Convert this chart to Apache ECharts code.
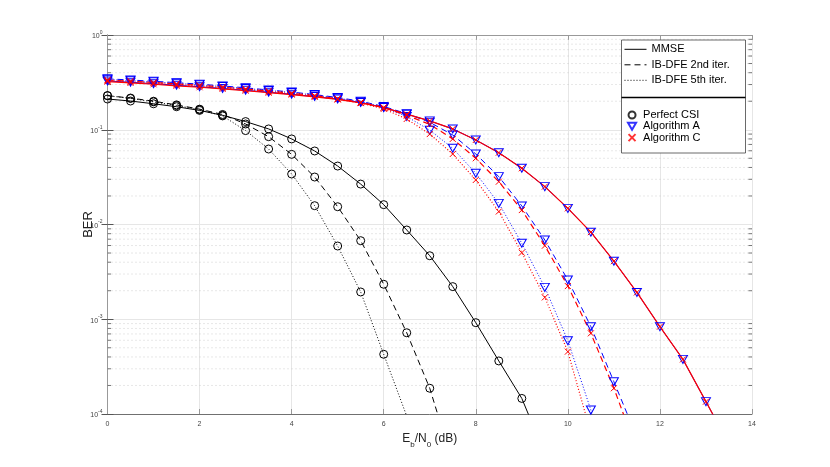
<!DOCTYPE html>
<html lang="en">
<head>
    <meta charset="UTF-8">
    <title>BER</title>
    <style>
        html, body {margin: 0; padding: 0; background: #fff;}
        #main {width: 830px; height: 467px;}
    </style>
</head>
<body>
<script src="https://cdn.jsdelivr.net/npm/echarts@6/dist/echarts.min.js"></script>

<div id="main"></div>
<script type="text/javascript">

// Eb/N0 points (dB), 0.5 dB step
var ebn0 = [0, 0.5, 1, 1.5, 2, 2.5, 3, 3.5, 4, 4.5, 5, 5.5, 6, 6.5, 7, 7.5, 8, 8.5, 9, 9.5,
            10, 10.5, 11, 11.5, 12, 12.5, 13, 13.5];

// Perfect CSI
var perfMmse  = [0.211, 0.201, 0.188, 0.175, 0.160, 0.142, 0.122, 0.102, 0.080, 0.0597, 0.0414, 0.0267,
                 0.0162, 0.00875, 0.00468, 0.00221, 0.00092, 0.000363, 0.000146, 3.8e-5];
var perfIter2 = [0.229, 0.216, 0.200, 0.183, 0.165, 0.145, 0.115, 0.0845, 0.055, 0.0317, 0.0154, 0.00675,
                 0.00234, 0.00072, 0.000187, 3e-5];
var perfIter5 = [0.229, 0.214, 0.197, 0.180, 0.163, 0.140, 0.098, 0.0626, 0.0341, 0.0158, 0.00593, 0.00194,
                 0.000427, 9.5e-5];

// Algorithm A
var algAMmse  = [0.327, 0.317, 0.306, 0.295, 0.284, 0.273, 0.261, 0.249, 0.237, 0.224, 0.211, 0.194,
                 0.172, 0.146, 0.124, 0.102, 0.078, 0.0573, 0.0392, 0.0251, 0.0148, 0.0083, 0.0041, 0.00192,
                 0.000835, 0.000377, 0.000135, 4.8e-5];
var algAIter2 = [0.345, 0.335, 0.325, 0.314, 0.303, 0.290, 0.277, 0.263, 0.250, 0.235, 0.219, 0.200,
                 0.176, 0.148, 0.120, 0.088, 0.0555, 0.032, 0.0157, 0.00686, 0.0026, 0.000835, 0.000219, 5.7e-5];
var algAIter5 = [0.340, 0.330, 0.320, 0.309, 0.298, 0.286, 0.273, 0.260, 0.247, 0.232, 0.216, 0.197,
                 0.172, 0.138, 0.099, 0.0637, 0.0347, 0.0167, 0.00633, 0.00217, 0.000594, 0.00011, 1.5e-5];

// Algorithm C
var algCMmse  = [0.322, 0.312, 0.302, 0.291, 0.281, 0.270, 0.258, 0.246, 0.235, 0.222, 0.209, 0.192,
                 0.171, 0.146, 0.124, 0.102, 0.078, 0.0573, 0.0392, 0.0251, 0.0148, 0.0083, 0.0041, 0.00192,
                 0.000835, 0.000377, 0.000135, 4.8e-5];
var algCIter2 = [0.335, 0.326, 0.316, 0.305, 0.294, 0.282, 0.269, 0.256, 0.243, 0.229, 0.213, 0.195,
                 0.172, 0.142, 0.114, 0.080, 0.050, 0.0283, 0.0142, 0.00597, 0.00224, 0.00071, 0.000187, 4.1e-5];
var algCIter5 = [0.330, 0.321, 0.311, 0.300, 0.290, 0.278, 0.266, 0.253, 0.240, 0.226, 0.210, 0.191,
                 0.166, 0.130, 0.090, 0.0555, 0.0295, 0.0137, 0.00504, 0.0017, 0.000455, 6.3e-5];

// minor y grid positions (2..9 of every decade)
var minorY = [];
for (var d = -4; d < 0; d++) {
    for (var k = 2; k <= 9; k++) {
        minorY.push([0, k * Math.pow(10, d)]);
    }
}

var FONT = 'Liberation Sans';
var BLUE = '#0000ff', RED = '#ff0000', BLACK = '#000000';
var DASH = [6, 4], DOT = [1, 2];
var CROSS = 'path://M0,0L10,10M10,0L0,10';
var TRI_DOWN = 'path://M0,0L10,0L5,8.66Z';

function pairs(ys) {
    var out = [];
    for (var i = 0; i < ys.length; i++) out.push([ebn0[i], ys[i]]);
    return out;
}

function curve(name, ys, color, type, mark) {
    var s = {
        name: name,
        type: 'line',
        data: pairs(ys),
        z: 3,
        silent: true,
        lineStyle: {color: color, width: 1, type: type},
        itemStyle: {color: 'transparent', borderColor: color, borderWidth: 1},
        showAllSymbol: true
    };
    if (mark === 'o') { s.symbol = 'circle'; s.symbolSize = 8; }
    if (mark === 'v') { s.symbol = TRI_DOWN; s.symbolSize = [9, 8]; }
    if (mark === 'x') { s.symbol = CROSS; s.symbolSize = 6; s.lineStyle.width = 1.2; }
    return s;
}

function legendLine(name, type) {
    return {name: name, type: 'line', data: [], symbol: 'none',
            lineStyle: {color: BLACK, width: 1, type: type},
            itemStyle: {color: 'transparent', borderColor: 'transparent', borderWidth: 0}};
}

function legendMark(name, symbol, color, size) {
    return {name: name, type: 'scatter', data: [], symbol: symbol, symbolSize: size,
            itemStyle: {color: 'transparent', borderColor: color, borderWidth: 1}};
}

var myChart = echarts.init(document.getElementById('main'), null, {renderer: 'canvas'});

myChart.setOption({
    animation: false,
    backgroundColor: '#ffffff',
    textStyle: {fontFamily: FONT},
    grid: {left: 107.5, right: 78, top: 35, bottom: 53},
    graphic: [
        {type: 'rect', z: 10, shape: {x: 621.5, y: 40, width: 124, height: 113},
         style: {fill: '#ffffff', stroke: '#444', lineWidth: 0.8}},
        {type: 'line', z: 11, shape: {x1: 621.5, y1: 97.5, x2: 745.5, y2: 97.5},
         style: {stroke: '#000', lineWidth: 1.5}}
    ],
    legend: [{
        data: ['MMSE', 'IB-DFE 2nd iter.', 'IB-DFE 5th iter.'],
        orient: 'vertical', left: 624, top: 43.3, padding: 0, itemGap: 3.5,
        itemWidth: 22, itemHeight: 12, z: 12, selectedMode: false,
        lineStyle: {width: 1},
        textStyle: {fontFamily: FONT, fontSize: 11, color: '#000', lineHeight: 12}
    }, {
        data: ['Perfect CSI', 'Algorithm A', 'Algorithm C'],
        orient: 'vertical', left: 627, top: 109.5, padding: 0, itemGap: 0.3,
        itemWidth: 12, itemHeight: 7, z: 12, selectedMode: false,
        textStyle: {fontFamily: FONT, fontSize: 11, color: '#000', lineHeight: 11}
    }],
    xAxis: [{
        type: 'value', min: 0, max: 14, interval: 2,
        name: '{n|E}{s|b}{n|/N}{s|0}{n| (dB)}',
        nameLocation: 'middle', nameGap: 14,
        nameTextStyle: {
            rich: {
                n: {fontFamily: FONT, fontSize: 12, color: '#222', lineHeight: 16, verticalAlign: 'top'},
                s: {fontFamily: FONT, fontSize: 8, color: '#222', lineHeight: 16, verticalAlign: 'bottom'}
            }
        },
        axisLine: {lineStyle: {color: '#707070', width: 1}},
        axisTick: {inside: true, length: 5, lineStyle: {color: '#999'}},
        axisLabel: {fontSize: 7, color: '#444', margin: 7, fontFamily: FONT},
        splitLine: {show: true, lineStyle: {color: '#e6e6e6', width: 1}}
    }, {
        type: 'value', min: 0, max: 14, interval: 2, position: 'top',
        axisLine: {show: true, lineStyle: {color: '#999', width: 1.2}},
        axisTick: {inside: true, length: 5, lineStyle: {color: '#999'}},
        axisLabel: {show: false},
        splitLine: {show: false}
    }],
    yAxis: [{
        type: 'log', logBase: 10, min: 1e-4, max: 1,
        name: 'BER', nameLocation: 'middle', nameGap: 13, nameMoveOverlap: false,
        nameTextStyle: {fontFamily: FONT, fontSize: 13, color: '#222'},
        axisLine: {show: true, lineStyle: {color: '#808080', width: 1}},
        axisTick: {inside: true, length: 6, lineStyle: {color: '#555'}},
        axisLabel: {
            margin: 5, color: '#444',
            formatter: function (v) {
                return '{b|10}{e|' + Math.round(Math.log10(v)) + '}';
            },
            rich: {
                b: {fontFamily: FONT, fontSize: 7, color: '#444', lineHeight: 10, verticalAlign: 'bottom'},
                e: {fontFamily: FONT, fontSize: 5, color: '#444', lineHeight: 6, verticalAlign: 'top'}
            }
        },
        splitLine: {show: true, lineStyle: {color: '#e6e6e6', width: 1}}
    }, {
        type: 'log', logBase: 10, min: 1e-4, max: 1, position: 'right',
        axisLine: {show: true, lineStyle: {color: '#999', width: 1}},
        axisTick: {inside: true, length: 6, lineStyle: {color: '#555'}},
        axisLabel: {show: false},
        splitLine: {show: false}
    }],
    series: [
        {
            name: 'minor grid', type: 'custom', data: minorY, z: 1, silent: true,
            encode: {x: 0, y: 1},
            renderItem: function (params, api) {
                var a = api.coord([0, api.value(1)]);
                var b = api.coord([14, api.value(1)]);
                return {
                    type: 'group',
                    children: [
                        {type: 'line', shape: {x1: a[0], y1: a[1], x2: b[0], y2: b[1]},
                         style: {stroke: '#c4c4c4', lineWidth: 0.8, lineDash: [1, 3]}},
                        {type: 'line', shape: {x1: a[0], y1: a[1], x2: a[0] + 3.5, y2: a[1]},
                         style: {stroke: '#555', lineWidth: 0.8}},
                        {type: 'line', shape: {x1: b[0] - 3.5, y1: b[1], x2: b[0], y2: b[1]},
                         style: {stroke: '#555', lineWidth: 0.8}}
                    ]
                };
            }
        },
        curve('MMSE / perfect CSI', perfMmse, BLACK, 'solid', 'o'),
        curve('IB-DFE 2nd / perfect CSI', perfIter2, BLACK, DASH, 'o'),
        curve('IB-DFE 5th / perfect CSI', perfIter5, BLACK, DOT, 'o'),
        curve('MMSE / A', algAMmse, BLUE, 'solid', 'v'),
        curve('IB-DFE 2nd / A', algAIter2, BLUE, DASH, 'v'),
        curve('IB-DFE 5th / A', algAIter5, BLUE, DOT, 'v'),
        curve('MMSE / C', algCMmse, RED, 'solid', 'x'),
        curve('IB-DFE 2nd / C', algCIter2, RED, DASH, 'x'),
        curve('IB-DFE 5th / C', algCIter5, RED, DOT, 'x'),
        legendLine('MMSE', 'solid'),
        legendLine('IB-DFE 2nd iter.', DASH),
        legendLine('IB-DFE 5th iter.', DOT),
        legendMark('Perfect CSI', 'circle', BLACK, 7),
        legendMark('Algorithm A', TRI_DOWN, BLUE, [7, 6]),
        legendMark('Algorithm C', CROSS, RED, 6)
    ]
});

</script>
</body>
</html>
